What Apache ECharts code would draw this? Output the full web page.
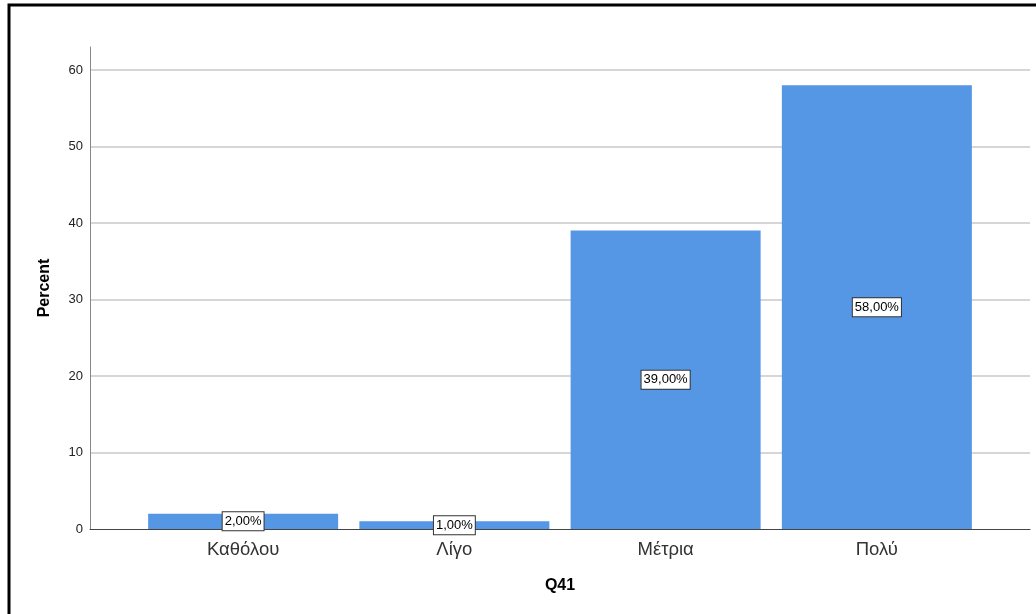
<!DOCTYPE html>
<html>
<head>
<meta charset="utf-8">
<script src="https://cdn.jsdelivr.net/npm/echarts@6/dist/echarts.min.js"></script>
<style>
html,body{margin:0;padding:0;background:#fff;}
#main{width:1036px;height:614px;}
</style>
</head>
<body>
<div id="main"></div>
<script>
const categories = ['Καθόλου', 'Λίγο', 'Μέτρια', 'Πολύ'];
const percentValues = [2, 1, 39, 58];
const yMin = 0;
const yMax = 63;
const yInterval = 10;
const xAxisTitle = 'Q41';
const yAxisTitle = 'Percent';

const FONT = '"Liberation Sans", Arial, sans-serif';
const chart = echarts.init(document.getElementById('main'), null, {renderer: 'canvas'});

const option = {
  animation: false,
  backgroundColor: '#ffffff',
  graphic: [{
    type: 'rect',
    shape: {x: 9, y: 5, width: 1200, height: 800},
    style: {fill: 'none', stroke: '#000', lineWidth: 3},
    silent: true
  }],
  grid: [
    {left: 90, right: 6, top: 47, bottom: 85},
    {left: 137.5, right: 53.5, top: 47, bottom: 85}
  ],
  xAxis: [
    {
      gridIndex: 0, type: 'category', data: categories,
      axisLine: {show: true, lineStyle: {color: '#444', width: 1}},
      axisTick: {show: false}, axisLabel: {show: false}, splitLine: {show: false}
    },
    {
      gridIndex: 1, type: 'category', data: categories,
      axisLine: {show: false}, axisTick: {show: false},
      axisLabel: {show: true, color: '#333', fontSize: 18.5, fontFamily: FONT, margin: 11},
      name: xAxisTitle, nameLocation: 'middle', nameGap: 49,
      nameTextStyle: {color: '#000', fontSize: 16, fontWeight: 'bold', fontFamily: FONT}
    }
  ],
  yAxis: [
    {
      gridIndex: 0, type: 'value', min: yMin, max: yMax, interval: yInterval,
      axisLine: {show: true, lineStyle: {color: '#888', width: 1}},
      axisTick: {show: false},
      axisLabel: {color: '#222', fontSize: 13, fontFamily: FONT, margin: 7, showMaxLabel: false,
        formatter: v => (v % yInterval === 0 ? String(v) : '')},
      splitLine: {show: true, showMinLine: false, showMaxLine: false, lineStyle: {color: '#d6d6d6', width: 2}},
      name: yAxisTitle, nameLocation: 'middle', nameGap: 37, nameRotate: 90,
      nameTextStyle: {color: '#000', fontSize: 16, fontWeight: 'bold', fontFamily: FONT}
    },
    {
      gridIndex: 1, type: 'value', min: yMin, max: yMax, interval: yInterval,
      show: false
    }
  ],
  series: [{
    type: 'bar',
    xAxisIndex: 1, yAxisIndex: 1,
    data: percentValues,
    barWidth: 190,
    itemStyle: {color: '#5596e5'},
    label: {
      show: true, position: 'inside',
      formatter: p => p.value.toFixed(2).replace('.', ',') + '%',
      color: '#000', fontSize: 13, fontFamily: FONT,
      backgroundColor: '#fff', borderColor: '#333', borderWidth: 1,
      padding: [3, 2, 2, 2]
    }
  }]
};
chart.setOption(option);
</script>
</body>
</html>
